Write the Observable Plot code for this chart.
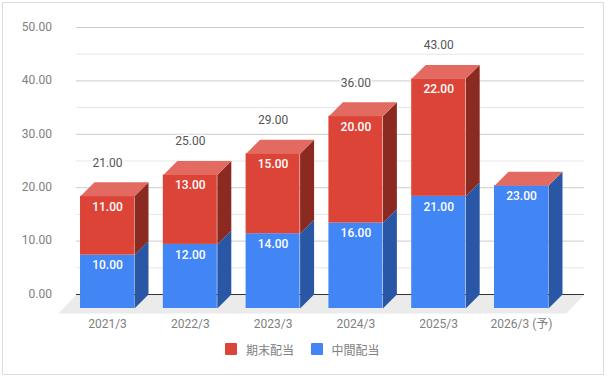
<!DOCTYPE html>
<html>
<head>
<meta charset="utf-8">
<script src="https://cdn.jsdelivr.net/npm/d3@7"></script>
<script src="https://cdn.jsdelivr.net/npm/@observablehq/plot@0.6"></script>
<style>
html,body{margin:0;padding:0;background:#fff}
body{width:607px;height:378px;position:relative;overflow:hidden;font-family:Roboto,"Noto Sans CJK JP",sans-serif}
#frame{position:absolute;left:2px;top:2px;width:602px;height:373px;box-sizing:border-box;border:1.5px solid #dcdcdc}
#chart{position:absolute;left:0;top:0}
#chart svg{display:block;background:transparent}
#legend{position:absolute;left:0;top:341px;width:605px;height:16px;display:flex;justify-content:center;align-items:center;font-size:12px;color:#808080}
#legend span.i{display:inline-flex;align-items:center;margin:0 8.5px}
#legend i{display:inline-block;width:12px;height:12px;margin-right:8.5px;border-radius:1px}
</style>
</head>
<body>
<div id="frame"></div>
<div id="chart"></div>
<div id="legend"></div>
<script>
const categories = ["2021/3","2022/3","2023/3","2024/3","2025/3","2026/3 (予)"];
const interim    = [10,12,14,16,21,23];
const yearEnd    = [11,13,15,20,22,0];
const totals     = [21,25,29,36,43,null];
const yTicks     = [0,10,20,30,40,50];
const yMinor     = [5,15,25,35,45];
const seriesNames = ["期末配当","中間配当"];
const seriesColors = ["#db4437","#4285f4"];

// depth of the pseudo-3D extrusion, in scale units
const halfW = 0.326, depthX = 0.169, depthY = 2.62;
const gridX1 = -0.374, gridX2 = 5.761;
const floorX1 = -0.592, floorX2 = 5.543, floorY = -3.56;

const idx = d3.range(categories.length);
const segs = idx.map(i => ({i, lo: 0, hi: interim[i]}));
const segsEnd = idx.map(i => ({i, lo: interim[i], hi: interim[i] + yearEnd[i]}));

function sidePts(rows){
  return rows.flatMap(r => [
    {id:r.i, x:r.i+halfW, y:r.lo-depthY},
    {id:r.i, x:r.i+halfW+depthX, y:r.lo},
    {id:r.i, x:r.i+halfW+depthX, y:r.hi},
    {id:r.i, x:r.i+halfW, y:r.hi-depthY}
  ]);
}
function topPts(rows){
  return rows.flatMap(r => [
    {id:r.i, x:r.i-halfW, y:r.hi-depthY},
    {id:r.i, x:r.i+halfW, y:r.hi-depthY},
    {id:r.i, x:r.i+halfW+depthX, y:r.hi},
    {id:r.i, x:r.i-halfW+depthX, y:r.hi}
  ]);
}
const facePoly = (pts, fill) => Plot.line(pts, {x:"x", y:"y", z:"id", fill, stroke:"none"});
const front = (rows, fill) => Plot.rect(rows, {
  x1:r=>r.i-halfW, x2:r=>r.i+halfW, y1:r=>r.lo-depthY, y2:r=>r.hi-depthY, fill, inset:0
});
const floorPts = [
  {x:floorX1,y:floorY},{x:floorX2,y:floorY},{x:gridX2,y:0},{x:gridX1,y:0}
];
const fontFamily = 'Roboto,"Noto Sans CJK JP",sans-serif';

const plot = Plot.plot({
  width:607, height:335,
  marginTop:27, marginBottom:41, marginLeft:58, marginRight:23,
  style:{fontFamily, fontSize:"12px", background:"transparent", overflow:"visible"},
  x:{type:"linear", domain:[-0.592,5.761], axis:null},
  y:{type:"linear", domain:[0,50], axis:null},
  marks:[
    Plot.line(floorPts,{x:"x",y:"y",fill:"#ebebeb",stroke:"none"}),
    Plot.ruleY(yMinor,{x1:()=>gridX1,x2:()=>gridX2,stroke:"#e6e6e6",strokeWidth:1}),
    Plot.ruleY(yTicks.slice(1),{x1:()=>gridX1,x2:()=>gridX2,stroke:"#cccccc",strokeWidth:1}),
    Plot.ruleY([0],{x1:()=>gridX1,x2:()=>gridX2,stroke:"#333333",strokeWidth:1}),
    Plot.axisY({ticks:yTicks,tickFormat:d3.format(".2f"),tickSize:0,tickPadding:6.5,label:null,fill:"#808080",fontSize:12,dy:-0.5}),
    Plot.text(idx,{x:i=>i,y:()=>-5.62,text:i=>categories[i],fill:"#808080",fontSize:12}),
    facePoly(sidePts(segs),"#2a56a6"),
    front(segs,seriesColors[1]),
    facePoly(sidePts(segsEnd),"#8b2a20"),
    front(segsEnd,seriesColors[0]),
    facePoly(topPts(segsEnd),"#e36a60"),
    Plot.text(segs,{x:r=>r.i,y:r=>r.hi-depthY,dy:10.5,text:r=>d3.format(".2f")(r.hi-r.lo),fill:"#fff",fontSize:12,fontWeight:500}),
    Plot.text(segsEnd.filter(r=>r.hi>r.lo),{x:r=>r.i,y:r=>r.hi-depthY,dy:10.5,text:r=>d3.format(".2f")(r.hi-r.lo),fill:"#fff",fontSize:12,fontWeight:500}),
    Plot.text(idx.filter(i=>totals[i]!=null),{x:i=>i,y:i=>totals[i],dy:-19.5,text:i=>d3.format(".2f")(totals[i]),fill:"#555555",fontSize:12,stroke:"#fff",strokeWidth:3})
  ]
});
document.getElementById("chart").appendChild(plot);
const lg = document.getElementById("legend");
seriesNames.forEach((n,k)=>{
  const s=document.createElement("span");s.className="i";
  const c=document.createElement("i");c.style.background=seriesColors[k];
  s.appendChild(c);s.appendChild(document.createTextNode(n));
  lg.appendChild(s);
});
</script>
</body>
</html>
